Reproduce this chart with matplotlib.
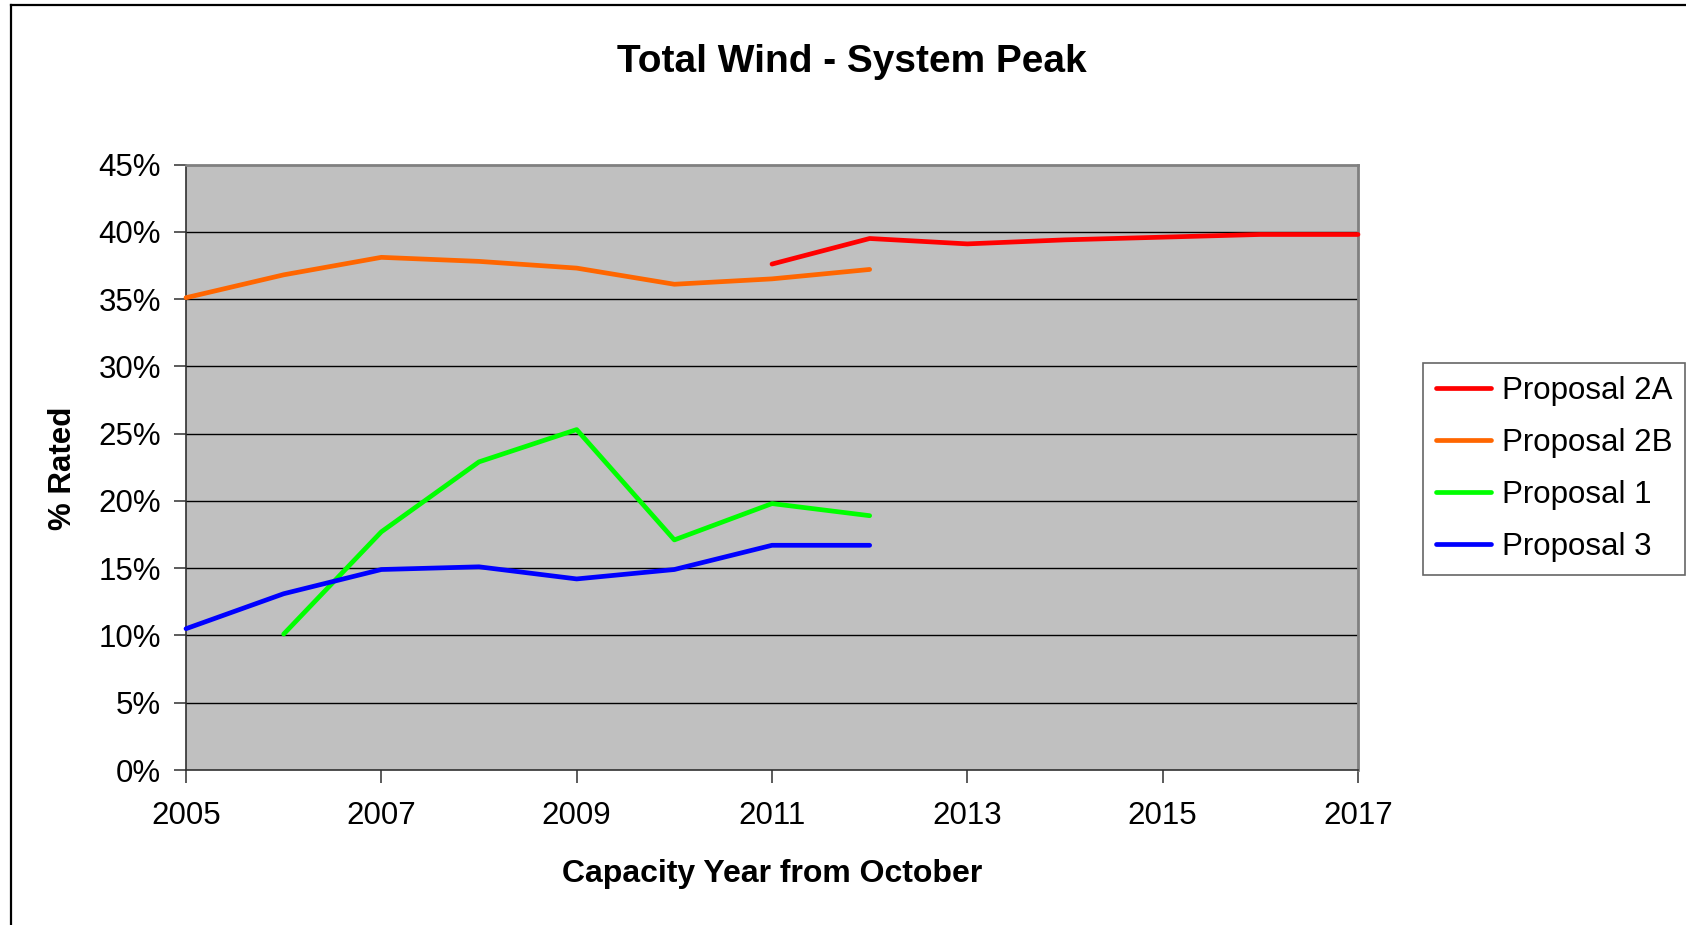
import matplotlib
matplotlib.use("Agg")
import matplotlib.pyplot as plt
from matplotlib.lines import Line2D
import numpy as np

plt.rcParams['font.family'] = ['Liberation Sans', 'DejaVu Sans']

title = "Total Wind - System Peak"
x_label = "Capacity Year from October"
y_label = "% Rated"

years_2a = [2011, 2012, 2013, 2014, 2015, 2016, 2017]
vals_2a = [37.6, 39.5, 39.1, 39.4, 39.6, 39.8, 39.8]

years_2b = [2005, 2006, 2007, 2008, 2009, 2010, 2011, 2012]
vals_2b = [35.1, 36.8, 38.1, 37.8, 37.3, 36.1, 36.5, 37.2]

years_p1 = [2006, 2007, 2008, 2009, 2010, 2011, 2012]
vals_p1 = [10.1, 17.7, 22.9, 25.3, 17.1, 19.8, 18.9]

years_p3 = [2005, 2006, 2007, 2008, 2009, 2010, 2011, 2012]
vals_p3 = [10.5, 13.1, 14.9, 15.1, 14.2, 14.9, 16.7, 16.7]

series_names = ["Proposal 2A", "Proposal 2B", "Proposal 1", "Proposal 3"]
series_colors = ["#FF0000", "#FF6600", "#00FF00", "#0000FF"]

x_ticks = [2005, 2007, 2009, 2011, 2013, 2015, 2017]
y_ticks = [0, 5, 10, 15, 20, 25, 30, 35, 40, 45]

W, H = 1686, 925
fig = plt.figure(figsize=(W / 100, H / 100), dpi=100)
fig.patch.set_facecolor("white")

ax_l, ax_r, ax_t, ax_b = 186, 1358, 164.5, 770
ax = fig.add_axes([ax_l / W, 1 - ax_b / H, (ax_r - ax_l) / W, (ax_b - ax_t) / H])
ax.set_facecolor("#C0C0C0")

for yv in y_ticks[1:-1]:
    ax.axhline(yv, color="black", linewidth=1.0, zorder=1)

data = [(years_2a, vals_2a), (years_2b, vals_2b), (years_p1, vals_p1), (years_p3, vals_p3)]
handles = []
for (xs, ys), name, col in zip(data, series_names, series_colors):
    ln, = ax.plot(xs, ys, color=col, linewidth=3.4, solid_capstyle="round",
                  solid_joinstyle="round", label=name, zorder=3, clip_on=False)
    handles.append(ln)

ax.set_xlim(2005, 2017)
ax.set_ylim(0, 45)
ax.set_xticks(x_ticks)
ax.set_xticklabels([str(t) for t in x_ticks])
ax.set_yticks(y_ticks)
ax.set_yticklabels([f"{t}%" for t in y_ticks])

ax.tick_params(axis="both", which="major", labelsize=22.5, direction="out",
               length=9, width=1.2, color="#404040")
ax.tick_params(axis="y", pad=9)
ax.tick_params(axis="x", pad=13)

for side in ["left", "bottom"]:
    ax.spines[side].set_color("#303030")
    ax.spines[side].set_linewidth(1.2)
for side in ["top", "right"]:
    ax.spines[side].set_color("#808080")
    ax.spines[side].set_linewidth(2.0)

fig.text(852 / W, 1 - 62 / H, title, ha="center", va="center",
         fontsize=28, fontweight="bold")
fig.text(772 / W, 1 - 874 / H, x_label, ha="center", va="center",
         fontsize=23, fontweight="bold")
fig.text(63 / W, 1 - 468 / H, y_label, ha="center", va="center",
         fontsize=22.5, fontweight="bold", rotation=90)

leg = fig.legend(handles=handles, labels=series_names, loc="upper left",
                 bbox_to_anchor=(1423 / W, 1 - 363 / H), fontsize=22.5,
                 frameon=True, fancybox=False, edgecolor="#404040",
                 handlelength=1.75, handletextpad=0.35, labelspacing=0.7,
                 borderpad=0.42, borderaxespad=0)
leg.get_frame().set_linewidth(1.2)
for lh in leg.get_lines():
    lh.set_linewidth(3.4)

# outer chart border (extends past right/bottom edge)
fig.add_artist(Line2D([10.5 / W, 10.5 / W], [1 - 5 / H, 0], transform=fig.transFigure,
                      color="black", linewidth=1.6))
fig.add_artist(Line2D([10.5 / W, 1], [1 - 5 / H, 1 - 5 / H], transform=fig.transFigure,
                      color="black", linewidth=1.6))

fig.savefig("out.png", dpi=100, facecolor="white")
